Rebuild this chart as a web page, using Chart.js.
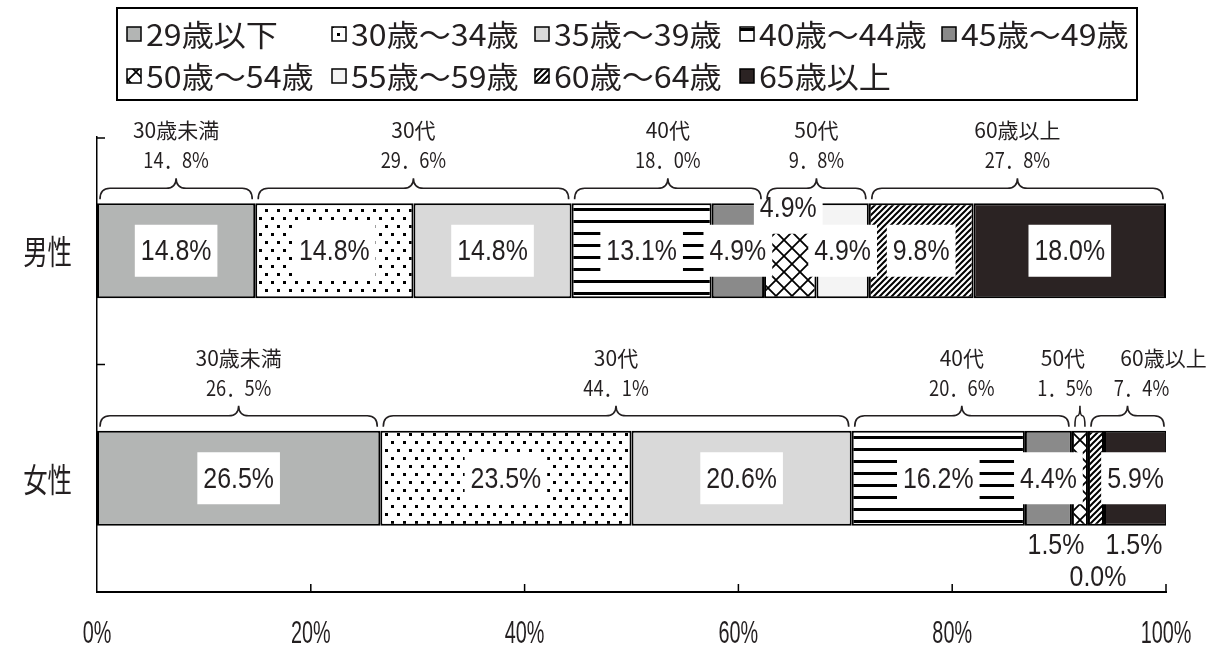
<!DOCTYPE html>
<html lang="ja">
<head>
<meta charset="UTF-8">
<title>男女別 年齢構成</title>
<style>
  html, body { margin: 0; padding: 0; background: #fff; }
  #wrap { width: 1224px; height: 651px; position: relative; }
</style>
</head>
<body>
<div id="wrap"><canvas id="ageChart"></canvas></div>
<script src="https://cdn.jsdelivr.net/npm/chart.js"></script>
<script>
// data
const genders = ['男性', '女性'];
const ageBands = ['29歳以下', '30歳～34歳', '35歳～39歳', '40歳～44歳', '45歳～49歳',
                  '50歳～54歳', '55歳～59歳', '60歳～64歳', '65歳以上'];
const maleShares = [14.8, 14.8, 14.8, 13.1, 4.9, 4.9, 4.9, 9.8, 18.0];
const femaleShares = [26.5, 23.5, 20.6, 16.2, 4.4, 1.5, 0.0, 1.5, 5.9];
const groupNames = ['30歳未満', '30代', '40代', '50代', '60歳以上'];
const groupBands = [[0], [1, 2], [3, 4], [5, 6], [7, 8]];
const xTickStep = 20;

// fills: plain greys or small tiles
const fillKinds = ['#b3b5b4', 'dots', '#d9d9d9', 'hlines', '#8a8a8a', 'cross', '#f4f4f4', 'diag', '#2b2323'];

const SANS = '"Liberation Sans", Arial, sans-serif';
const CJK = '"Noto Sans CJK JP", sans-serif';
const INK = '#231f20';

const canvas = document.getElementById('ageChart');
const ctx = canvas.getContext('2d');

function makeFill(kind) {
  if (kind[0] === '#') return kind;
  const t = document.createElement('canvas');
  const g = t.getContext('2d');
  if (kind === 'dots') {
    t.width = 12; t.height = 16;
    g.fillStyle = '#fff'; g.fillRect(0, 0, 12, 16);
    g.fillStyle = '#000';
    g.fillRect(1, 1, 3, 3);
    g.fillRect(7, 9, 3, 3);
  } else if (kind === 'hlines') {
    t.width = 12; t.height = 12;
    g.fillStyle = '#fff'; g.fillRect(0, 0, 12, 12);
    g.fillStyle = '#000'; g.fillRect(0, 4, 12, 3);
  } else if (kind === 'cross') {
    t.width = 16; t.height = 16;
    g.fillStyle = '#fff'; g.fillRect(0, 0, 16, 16);
    g.strokeStyle = '#000'; g.lineWidth = 1.8;
    g.beginPath();
    g.moveTo(0, 0); g.lineTo(16, 16);
    g.moveTo(16, 0); g.lineTo(0, 16);
    g.stroke();
  } else if (kind === 'diag') {
    t.width = 6; t.height = 6;
    g.fillStyle = '#fff'; g.fillRect(0, 0, 6, 6);
    g.strokeStyle = '#000'; g.lineWidth = 2;
    g.beginPath();
    g.moveTo(0, 6); g.lineTo(6, 0);
    g.moveTo(-1, 1); g.lineTo(1, -1);
    g.moveTo(5, 7); g.lineTo(7, 5);
    g.stroke();
  }
  return ctx.createPattern(t, 'repeat');
}

const fills = fillKinds.map(makeFill);

const datasets = ageBands.map((band, i) => ({
  label: band,
  data: [maleShares[i], femaleShares[i]],
  backgroundColor: fills[i],
  borderColor: '#000',
  borderWidth: c => (c.raw === 0 ? 0 : 2),
  borderSkipped: false,
  barPercentage: 0.418,
  categoryPercentage: 1
}));

// value labels moved off their segment: 'bar-dataset': [dx, dy, white box?]
const labelShift = {
  '0-5': [-2, -43, true],
  '1-5': [-24, 66, false],
  '1-6': [10, 98, false],
  '1-7': [38, 66, false]
};
// group caption nudges: 'bar-group': [name dx, value dx]
const groupShift = { '1-3': [-17, -15], '1-4': [36, 14] };

// condensed text: the source font is a narrow gothic
function squeezed(c, txt, x, y, sx) {
  c.save();
  c.translate(x, y);
  c.scale(sx, 1);
  c.fillText(txt, 0, 0);
  c.restore();
}

function brace(c, x0, x1, top) {
  const xm = (x0 + x1) / 2;
  const r = Math.min(10, (x1 - x0) / 4);
  const yb = top - 4, yh = top - 15, yp = top - 25;
  c.beginPath();
  c.moveTo(x0, yb);
  c.quadraticCurveTo(x0, yh, x0 + r, yh);
  c.lineTo(xm - r, yh);
  c.quadraticCurveTo(xm, yh, xm, yp);
  c.quadraticCurveTo(xm, yh, xm + r, yh);
  c.lineTo(x1 - r, yh);
  c.quadraticCurveTo(x1, yh, x1, yb);
  c.stroke();
}

const extras = {
  id: 'extras',
  afterDatasetsDraw(chart) {
    const c = chart.ctx;
    const area = chart.chartArea;
    const xs = chart.scales.x, ys = chart.scales.y;
    c.save();
    c.textAlign = 'center';
    c.textBaseline = 'middle';

    // value labels in white boxes
    c.font = '30px ' + SANS;
    const sx = 0.83;
    chart.data.datasets.forEach((ds, i) => {
      chart.getDatasetMeta(i).data.forEach((el, j) => {
        const p = el.getProps(['x', 'y', 'base'], true);
        const sh = labelShift[j + '-' + i] || [0, 0, true];
        const cx = (p.x + p.base) / 2 + sh[0];
        const cy = p.y + sh[1];
        const txt = ds.data[j].toFixed(1) + '%';
        const w = c.measureText(txt).width * sx + 12;
        if (sh[2]) {
          c.fillStyle = '#fff';
          c.fillRect(cx - w / 2, cy - 26, w, 52);
        }
        c.fillStyle = INK;
        squeezed(c, txt, cx, cy + 1, sx);
      });
    });

    // braces and group captions
    c.strokeStyle = INK;
    c.lineWidth = 1.6;
    genders.forEach((g, j) => {
      groupBands.forEach((members, k) => {
        const first = chart.getDatasetMeta(members[0]).data[j].getProps(['base', 'y', 'height'], true);
        const last = chart.getDatasetMeta(members[members.length - 1]).data[j].getProps(['x'], true);
        const top = first.y - first.height / 2;
        const x0 = first.base + 3, x1 = last.x - 3;
        brace(c, x0, x1, top);
        const sum = members.reduce((s, m) => s + chart.data.datasets[m].data[j], 0);
        const sh = groupShift[j + '-' + k] || [0, 0];
        const xm = (x0 + x1) / 2;
        c.fillStyle = INK;
        c.font = '21px ' + CJK;
        c.fillText(groupNames[k], xm + sh[0], top - 73);
        squeezed(c, sum.toFixed(1).replace('.', '．') + '%', xm + sh[1], top - 43, 0.87);
      });
    });

    // x tick labels, condensed
    c.font = '31px ' + SANS;
    xs.ticks.forEach(t => {
      squeezed(c, t.value + '%', xs.getPixelForValue(t.value), 634, 0.64);
    });

    // category labels
    c.font = '33px ' + CJK;
    c.textAlign = 'right';
    ys.ticks.forEach((t, k) => {
      c.save();
      c.translate(72, ys.getPixelForValue(k) + 1);
      c.scale(0.74, 1);
      c.fillText(genders[k], 0, 0);
      c.restore();
    });
    c.textAlign = 'center';

    // inward ticks
    c.strokeStyle = '#000';
    c.lineWidth = 1.5;
    c.beginPath();
    xs.ticks.forEach(t => {
      if (t.value === 0) return;
      const x = xs.getPixelForValue(t.value);
      c.moveTo(x, area.bottom); c.lineTo(x, area.bottom - 8);
    });
    const mid = (ys.getPixelForValue(0) + ys.getPixelForValue(1)) / 2;
    [area.top + 1, mid].forEach(y => { c.moveTo(area.left, y); c.lineTo(area.left + 8, y); });
    c.stroke();

    // legend in a box
    c.lineWidth = 2;
    c.strokeRect(117, 8, 1020, 92);
    const cols = [127, 332, 535, 740, 942];
    const rows = [34, 76];
    c.font = '30px ' + CJK;
    c.textAlign = 'left';
    chart.data.datasets.forEach((ds, i) => {
      const x = cols[i % 5], y = rows[Math.floor(i / 5)];
      c.fillStyle = ds.backgroundColor;
      c.fillRect(x, y - 7, 14, 14);
      c.lineWidth = 1.5;
      c.strokeRect(x, y - 7, 14, 14);
      c.fillStyle = INK;
      squeezed(c, ds.label, x + 19, y + 1, 1.07);
    });
    c.restore();
  }
};

new Chart(canvas, {
  type: 'bar',
  data: { labels: genders, datasets },
  options: {
    indexAxis: 'y',
    responsive: true,
    maintainAspectRatio: false,
    animation: false,
    layout: { padding: { top: 137, right: 58, left: 0, bottom: 0 } },
    plugins: { legend: { display: false }, tooltip: { enabled: false } },
    scales: {
      x: {
        stacked: true,
        min: 0,
        max: 100,
        afterFit(s) { s.height = 59; },
        grid: { display: false, drawTicks: false },
        border: { display: true, color: '#000', width: 2 },
        ticks: { stepSize: xTickStep, display: false }
      },
      y: {
        stacked: true,
        afterFit(s) { s.width = 97; },
        grid: { display: false, drawTicks: false },
        border: { display: true, color: '#000', width: 1.5 },
        ticks: { display: false }
      }
    }
  },
  plugins: [extras]
});
</script>
</body>
</html>
